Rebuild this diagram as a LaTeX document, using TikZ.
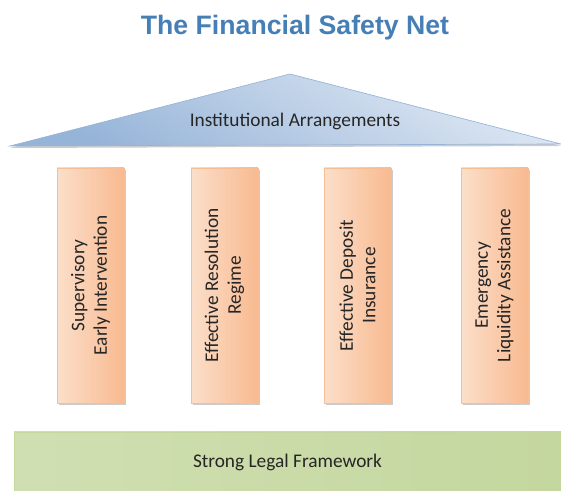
\documentclass[tikz,border=0pt]{standalone}
\usepackage{fontspec}
\setmainfont{Carlito}
\newfontfamily\titlefont{Liberation Sans}
\usetikzlibrary{shadows}

\definecolor{titleblue}{RGB}{70,126,182}
\definecolor{roofdark}{RGB}{150,180,216}
\definecolor{rooflight}{RGB}{224,233,244}
\definecolor{pillarlight}{RGB}{253,238,226}
\definecolor{pillardark}{RGB}{248,186,144}
\definecolor{pillarline}{RGB}{246,190,150}
\definecolor{baselight}{RGB}{236,242,224}
\definecolor{basedark}{RGB}{196,215,158}

\tikzset{
  pillar/.style={draw=pillarline, line width=0.5pt, minimum width=50.25pt,
    minimum height=176.25pt, inner sep=0pt,
    left color=pillardark!30!pillarlight, middle color=pillarlight, right color=pillardark,
    drop shadow={shadow xshift=1.5pt, shadow yshift=-1.5pt, opacity=0.4}},
  pillartext/.style={rotate=90, align=center,
    font=\fontsize{14.5}{17}\selectfont, text=black!85},
  roof/.style={draw=roofdark, line width=0.5pt,
    top color=rooflight, bottom color=roofdark, shading angle=-30,
    drop shadow={shadow xshift=0pt, shadow yshift=-1.5pt, opacity=0.4}},
  basebox/.style={draw=basedark, line width=0.5pt, minimum width=410.25pt,
    minimum height=45pt, inner sep=0pt,
    left color=basedark!70!baselight, middle color=baselight, right color=basedark,
    font=\fontsize{14.5}{17}\selectfont, text=black!85},
  plain/.style={font=\fontsize{14.5}{17}\selectfont, text=black!85}
}

\begin{document}
\begin{tikzpicture}[x=0.75pt, y=-0.75pt]
\useasboundingbox (0,0) rectangle (561,491);

% titolo
\node[font=\titlefont\fontsize{20}{24}\selectfont\bfseries, text=titleblue] (title) at (295,28) {The Financial Safety Net};

% tetto
\path[roof] (10,146) -- (290,74) -- (561,144) -- cycle;
\node[plain] (roof) at (295,121) {Institutional Arrangements};

% colonne
\foreach \i/\x/\txt in {1/90.5/{Supervisory\\Early Intervention},
                        2/224.5/{Effective Resolution\\Regime},
                        3/357.5/{Effective Deposit\\Insurance},
                        4/494.5/{Emergency\\Liquidity Assistance}} {
    \node[pillar] (p\i) at (\x,285.5) {};
    \node[pillartext] (t\i) at (p\i) {\txt};
}

% base
\node[basebox] (base) at (287.5,462) {Strong Legal Framework};

\end{tikzpicture}
\end{document}
